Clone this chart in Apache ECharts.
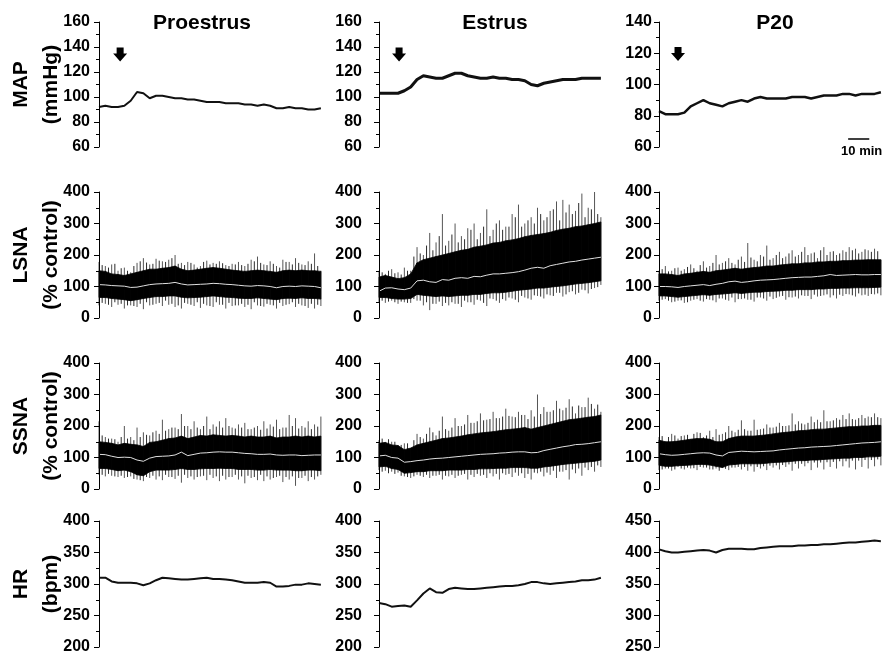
<!DOCTYPE html>
<html>
<head>
<meta charset="utf-8">
<script src="https://cdn.jsdelivr.net/npm/echarts@6/dist/echarts.min.js"></script>
<style>
html,body{margin:0;padding:0;background:#fff}
#chart{width:886px;height:656px}
</style>
</head>
<body>
<div id="chart"></div>
<script>
// sample times (min), one point every 3 min, and the in-between spike times
var minutes = [0,3,6,9,12,15,18,21,24,27,30,33,36,39,42,45,48,51,54,57,60,63,66,69,72,75,78,81,84,87,90,93,96,99,102,105];
var minutesHalf = [1.5,4.5,7.5,10.5,13.5,16.5,19.5,22.5,25.5,28.5,31.5,34.5,37.5,40.5,43.5,46.5,49.5,52.5,55.5,58.5,61.5,64.5,67.5,70.5,73.5,76.5,79.5,82.5,85.5,88.5,91.5,94.5,97.5,100.5,103.5];

// MAP (mmHg)
var proMAP = [92,93,92,92,93,97,104,103,99,101,101,100,99,99,98,98,97,96,96,96,95,95,95,94,94,93,94,93,91,91,92,91,91,90,90,91];
var estMAP = [103,103,103,103,105,108,114,117,116,115,115,117,119,119,117,116,115,115,116,115,115,114,114,113,110,109,111,112,113,114,114,114,115,115,115,115];
var p20MAP = [83,81,81,81,82,86,88,90,88,87,86,88,89,90,89,91,92,91,91,91,91,92,92,92,91,92,93,93,93,94,94,93,94,94,94,95];

// HR (bpm)
var proHR = [310,310,304,302,302,302,301,298,301,306,310,309,308,307,307,308,309,310,308,308,307,306,304,302,302,302,303,302,296,296,297,299,299,301,300,299];
var estHR = [270,268,264,265,266,264,274,285,293,287,286,292,294,293,292,292,293,294,295,296,297,297,298,300,303,303,301,300,301,302,303,304,306,306,307,310];
var p20HR = [405,402,400,400,401,402,403,404,403,400,404,406,406,406,405,405,407,408,409,410,410,410,411,411,412,412,413,413,414,415,416,416,417,418,419,418];

// LSNA (% control): running mean, dense core band, spike extremes
var proLSNAmean   = [106,105,103,102,101,97,98,102,106,108,109,110,113,108,105,106,107,108,110,109,107,106,104,102,101,103,102,100,96,100,101,100,102,101,100,96];
var proLSNAcoreHi = [150,148,140,138,135,140,145,150,155,155,158,160,165,155,150,152,155,158,160,158,155,152,150,148,150,152,150,148,145,150,152,150,152,150,150,148];
var proLSNAcoreLo = [65,65,62,60,58,55,58,62,65,68,68,70,70,66,64,65,66,68,70,68,66,65,63,62,62,64,62,60,58,62,63,62,64,62,62,60];
var proLSNAhi     = [178,165,170,150,160,145,175,190,170,188,180,185,200,175,178,170,165,182,175,180,168,172,178,165,185,195,170,180,165,185,178,190,170,180,205,150];
var proLSNAlo     = [40,45,35,42,30,40,35,28,40,45,38,42,35,30,45,38,32,40,35,42,30,38,40,35,28,40,36,42,30,38,44,35,40,32,30,38];
var proLSNAhi2    = [168,160,172,158,150,165,180,176,172,182,178,190,172,168,175,160,178,170,172,174,165,170,168,172,180,175,168,172,160,178,170,175,168,172,165];
var proLSNAlo2    = [48,42,50,45,40,38,45,50,42,48,55,45,40,48,42,50,45,38,50,42,48,40,45,42,50,38,45,40,48,42,50,45,38,45,42];

var estLSNAmean   = [85,95,96,92,90,95,118,120,115,113,122,120,126,128,126,132,131,136,140,140,142,144,147,152,158,161,158,166,170,174,178,180,184,187,190,193];
var estLSNAcoreHi = [130,135,130,125,128,140,175,185,190,195,200,205,210,215,218,225,228,232,238,240,245,248,252,258,262,265,268,272,278,282,285,290,292,296,300,305];
var estLSNAcoreLo = [65,65,62,60,60,62,75,72,70,68,70,68,70,72,72,75,75,78,80,80,82,85,88,90,92,95,95,98,100,102,105,108,110,112,115,118];
var estLSNAhi     = [150,140,155,145,160,150,225,200,270,240,330,245,300,260,285,300,270,345,280,310,290,330,360,300,320,350,310,340,370,375,360,340,395,350,400,320];
var estLSNAlo     = [50,48,55,45,50,48,55,40,25,45,38,40,45,35,50,42,55,38,60,48,55,62,50,65,58,70,62,72,80,68,82,75,90,78,95,105];
var estLSNAhi2    = [145,150,142,138,150,195,205,230,215,260,230,265,240,250,280,250,290,260,300,280,290,320,290,310,300,330,320,345,310,335,330,365,320,345,330];
var estLSNAlo2    = [55,52,50,52,48,60,55,50,45,52,48,50,45,55,50,58,48,62,55,60,65,58,70,62,72,68,75,70,80,75,85,80,88,92,98];

var p20LSNAmean   = [100,100,99,97,100,102,104,106,103,107,110,115,117,113,115,118,120,121,122,124,126,128,129,130,130,132,134,138,135,136,137,138,137,137,138,138];
var p20LSNAcoreHi = [140,140,138,135,140,142,145,148,145,150,152,155,158,155,158,160,162,165,165,168,170,172,172,175,175,178,178,180,180,182,182,184,184,185,185,185];
var p20LSNAcoreLo = [70,70,68,66,68,70,72,74,72,75,76,78,80,78,80,82,82,84,85,86,88,88,90,90,90,92,92,94,94,95,95,96,96,96,97,98];
var p20LSNAhi     = [150,165,150,160,155,170,150,180,165,200,175,190,170,195,238,185,200,230,190,210,195,215,200,225,205,190,225,210,200,215,225,220,210,215,220,185];
var p20LSNAlo     = [55,60,50,55,48,55,60,52,58,50,62,55,50,60,58,52,65,55,60,68,58,65,62,70,60,68,72,65,62,70,75,68,72,70,75,72];
var p20LSNAhi2    = [155,148,158,150,162,158,168,160,175,170,180,175,185,178,192,180,195,185,200,190,205,195,210,200,208,215,200,212,205,210,215,205,218,210,212];
var p20LSNAlo2    = [58,55,52,56,50,58,55,60,56,62,58,65,60,62,58,65,62,68,64,70,66,68,72,70,74,70,75,72,74,76,72,78,74,76,78];

// SSNA (% control)
var proSSNAmean   = [110,109,104,100,101,100,92,88,98,103,104,105,108,117,106,110,114,115,117,118,117,117,115,113,112,110,110,111,108,107,108,108,106,107,108,108];
var proSSNAcoreHi = [150,148,145,140,145,142,140,135,148,150,155,160,162,168,160,165,170,168,172,170,168,170,168,165,168,165,165,168,162,165,165,168,165,168,165,168];
var proSSNAcoreLo = [65,65,62,58,60,55,45,42,55,60,60,60,62,65,62,62,64,65,65,66,65,65,62,62,62,60,60,62,60,60,60,58,58,60,60,58];
var proSSNAhi     = [215,165,160,150,200,165,195,180,170,185,220,190,195,238,200,215,190,230,205,215,225,195,205,210,190,200,215,205,220,195,235,225,200,215,205,230];
var proSSNAlo     = [45,40,42,38,35,40,30,25,35,30,28,38,32,20,35,30,40,28,35,25,30,38,30,18,35,28,25,30,38,22,30,10,35,25,30,45];
var proSSNAhi2    = [170,160,158,165,160,155,165,172,180,175,185,195,190,200,190,195,200,190,198,195,200,192,195,190,195,188,192,198,190,195,200,192,195,190,198];
var proSSNAlo2    = [45,48,40,42,38,32,28,38,42,40,45,38,42,45,40,38,42,45,40,42,38,45,40,42,38,45,40,35,42,38,40,35,42,38,40];

var estSSNAmean   = [105,107,100,98,85,87,90,92,95,97,98,100,102,104,106,108,110,111,112,114,115,117,118,118,115,116,122,126,130,134,137,141,142,144,147,150];
var estSSNAcoreHi = [145,148,140,138,125,130,140,145,150,155,160,162,165,168,172,175,178,180,182,185,188,190,192,195,190,195,200,205,210,215,220,222,225,228,230,235];
var estSSNAcoreLo = [70,72,65,62,50,52,55,55,58,58,58,60,60,60,62,62,64,64,65,66,66,68,68,68,66,66,70,72,75,78,80,82,84,86,88,92];
var estSSNAhi     = [155,140,150,135,145,125,175,160,195,170,230,185,225,200,235,210,240,220,245,225,255,230,245,235,250,300,260,245,280,250,285,240,260,290,255,245];
var estSSNAlo     = [60,58,55,52,40,35,45,38,35,42,30,40,35,45,30,38,42,35,40,30,45,38,42,35,30,50,40,45,35,55,30,50,42,60,55,70];
var estSSNAhi2    = [160,158,150,140,145,155,165,175,180,185,190,195,200,205,210,215,218,222,225,230,232,228,235,222,230,238,245,250,255,258,262,265,260,270,268];
var estSSNAlo2    = [55,50,48,42,38,40,42,45,42,45,42,45,42,48,45,48,45,50,48,50,48,52,50,48,52,55,52,58,55,60,62,65,68,70,75];

var p20SSNAmean   = [112,109,107,108,110,112,114,115,114,108,105,116,118,120,119,118,119,120,121,124,126,128,130,131,133,134,135,136,138,140,142,144,146,147,148,150];
var p20SSNAcoreHi = [155,150,150,152,155,158,160,160,158,150,150,160,165,168,168,168,170,172,175,178,180,182,185,186,188,190,190,192,194,196,198,198,200,200,202,202];
var p20SSNAcoreLo = [75,72,72,74,75,76,78,78,76,72,68,76,78,80,80,80,80,82,84,85,86,88,90,90,92,92,94,95,96,98,98,100,100,102,102,104];
var p20SSNAhi     = [165,150,175,160,170,155,180,165,185,190,175,200,180,218,185,220,190,205,195,210,200,240,215,205,230,220,250,215,225,235,240,220,235,230,240,225];
var p20SSNAlo     = [60,65,58,70,62,65,60,68,62,65,70,60,68,62,58,55,65,60,68,62,70,58,65,72,60,68,62,70,65,72,68,62,70,65,72,75];
var p20SSNAhi2    = [168,165,170,168,172,175,178,170,165,172,180,185,188,190,185,188,192,195,198,200,202,205,208,210,212,212,215,218,220,222,222,225,225,228,228];
var p20SSNAlo2    = [62,65,62,65,68,66,70,68,62,58,64,68,70,70,72,70,72,74,75,76,78,80,80,82,84,84,85,86,88,88,90,90,92,92,94];

// axis ranges [min, max, interval]
var mapAxis = [60, 160, 20];
var mapAxisP20 = [60, 140, 20];
var snaAxis = [0, 400, 100];
var hrAxis = [200, 400, 50];
var hrAxisP20 = [250, 450, 50];

var colTitles = ['Proestrus', 'Estrus', 'P20'];
var rowNames = ['MAP\n(mmHg)', 'LSNA\n(% control)', 'SSNA\n(% control)', 'HR\n(bpm)'];

var colLeft = [99, 379, 659];
var colTitleX = [197, 490, 770];
var labelMargin = [9, 17, 7];
var rowTop = [22, 192, 363, 521];
var rowH = [125, 126, 126, 126];
var plotW = 224;
var FONT = 'Arial, "Liberation Sans", sans-serif';

var panels = [
  {row:0, col:0, axis:mapAxis, line:proMAP, width:2, arrow:[10, 134]},
  {row:0, col:1, axis:mapAxis, line:estMAP, width:3, arrow:[9.5, 134]},
  {row:0, col:2, axis:mapAxisP20, line:p20MAP, width:2.5, arrow:[9, 119.5], scaleBar:true},
  {row:1, col:0, axis:snaAxis, band:[proLSNAhi, proLSNAcoreHi, proLSNAcoreLo, proLSNAlo, proLSNAmean, proLSNAhi2, proLSNAlo2]},
  {row:1, col:1, axis:snaAxis, band:[estLSNAhi, estLSNAcoreHi, estLSNAcoreLo, estLSNAlo, estLSNAmean, estLSNAhi2, estLSNAlo2]},
  {row:1, col:2, axis:snaAxis, band:[p20LSNAhi, p20LSNAcoreHi, p20LSNAcoreLo, p20LSNAlo, p20LSNAmean, p20LSNAhi2, p20LSNAlo2]},
  {row:2, col:0, axis:snaAxis, band:[proSSNAhi, proSSNAcoreHi, proSSNAcoreLo, proSSNAlo, proSSNAmean, proSSNAhi2, proSSNAlo2]},
  {row:2, col:1, axis:snaAxis, band:[estSSNAhi, estSSNAcoreHi, estSSNAcoreLo, estSSNAlo, estSSNAmean, estSSNAhi2, estSSNAlo2]},
  {row:2, col:2, axis:snaAxis, band:[p20SSNAhi, p20SSNAcoreHi, p20SSNAcoreLo, p20SSNAlo, p20SSNAmean, p20SSNAhi2, p20SSNAlo2]},
  {row:3, col:0, axis:hrAxis, line:proHR, width:2},
  {row:3, col:1, axis:hrAxis, line:estHR, width:2},
  {row:3, col:2, axis:hrAxisP20, line:p20HR, width:2}
];

function pairs(arr) {
  return arr.map(function (v, i) { return [minutes[i], v]; });
}

// vertical spike from lo to hi at each sample
function spikeSeries(gi, times, hi, lo, color) {
  return {
    type: 'custom', xAxisIndex: gi, yAxisIndex: gi, silent: true,
    data: times.map(function (t, i) { return [t, lo[i], hi[i]]; }),
    encode: {x: 0, y: [1, 2]},
    renderItem: function (params, api) {
      var a = api.coord([api.value(0), api.value(1)]);
      var b = api.coord([api.value(0), api.value(2)]);
      return {type: 'line', shape: {x1: a[0], y1: a[1], x2: b[0], y2: b[1]},
        style: {stroke: color, lineWidth: 1}};
    }
  };
}

// filled black band between core low and core high
function coreSeries(gi, hi, lo) {
  var n = minutes.length;
  return {
    type: 'custom', xAxisIndex: gi, yAxisIndex: gi, silent: true,
    data: minutes.slice(0, n - 1).map(function (t, i) { return [t, lo[i], hi[i], minutes[i + 1], lo[i + 1], hi[i + 1]]; }),
    encode: {x: [0, 3], y: [1, 2, 4, 5]},
    renderItem: function (params, api) {
      var p1 = api.coord([api.value(0), api.value(1)]);
      var p2 = api.coord([api.value(0), api.value(2)]);
      var p3 = api.coord([api.value(3), api.value(5)]);
      var p4 = api.coord([api.value(3), api.value(4)]);
      return {type: 'polygon', shape: {points: [p1, p2, p3, p4]},
        style: {fill: '#000', stroke: '#000', lineWidth: 0.8}};
    }
  };
}

var grids = [], xAxes = [], yAxes = [], series = [];

panels.forEach(function (p, gi) {
  grids.push({left: colLeft[p.col], top: rowTop[p.row], width: plotW, height: rowH[p.row]});
  xAxes.push({gridIndex: gi, type: 'value', min: 0, max: 106, show: false});
  var y = {
    gridIndex: gi, type: 'value', min: p.axis[0], max: p.axis[1], interval: p.axis[2], z: 10,
    axisLine: {show: true, lineStyle: {color: '#000', width: 1}},
    axisTick: {show: true, inside: false, length: 5, lineStyle: {color: '#000'}},
    minorTick: {show: true, splitNumber: 2, length: 3, lineStyle: {color: '#000'}},
    splitLine: {show: false},
    axisLabel: {fontFamily: FONT, fontSize: 16, fontWeight: 'bold', color: '#000', margin: labelMargin[p.col]}
  };
  if (p.col === 0) {
    y.name = rowNames[p.row];
    y.nameLocation = 'middle';
    y.nameRotate = 90;
    y.nameGap = 33;
    y.nameMoveOverlap = false;
    y.nameTextStyle = {fontFamily: FONT, fontSize: 21, fontWeight: 'bold', color: '#000', lineHeight: 30};
  }
  yAxes.push(y);

  if (p.line) {
    var s = {
      type: 'line', xAxisIndex: gi, yAxisIndex: gi, data: pairs(p.line),
      symbol: 'none', silent: true, clip: false,
      lineStyle: {color: '#111', width: p.width}
    };
    if (p.arrow) {
      s.markPoint = {
        silent: true,
        symbol: 'path://M3,0 L9,0 L9,6 L12,6 L6,14 L0,6 L3,6 Z',
        symbolSize: [14, 14],
        itemStyle: {color: '#000'},
        label: {show: false},
        data: [{coord: p.arrow}]
      };
    }
    if (p.scaleBar) {
      s.markLine = {
        silent: true, symbol: 'none',
        lineStyle: {color: '#000', width: 1.5, type: 'solid'},
        label: {show: true, position: 'insideMiddleBottom', distance: 6, formatter: '10 min',
          fontFamily: FONT, fontSize: 13, fontWeight: 'bold', color: '#000', offset: [3, 0]},
        data: [[{coord: [89.5, 65]}, {coord: [99.5, 65]}]]
      };
    }
    series.push(s);
  } else {
    series.push(spikeSeries(gi, minutes, p.band[0], p.band[3], '#555'));
    series.push(spikeSeries(gi, minutesHalf, p.band[5], p.band[6], '#2a2a2a'));
    series.push(coreSeries(gi, p.band[1], p.band[2]));
    series.push({
      type: 'line', xAxisIndex: gi, yAxisIndex: gi, data: pairs(p.band[4]),
      symbol: 'none', silent: true, z: 3,
      lineStyle: {color: '#e0e0e0', width: 1}
    });
  }
});

var titles = colTitles.map(function (t, i) {
  return {text: t, left: colTitleX[i], top: 8, textAlign: 'center',
    textStyle: {fontFamily: FONT, fontSize: 21, fontWeight: 'bold', color: '#000'}};
});

var chart = echarts.init(document.getElementById('chart'));
chart.setOption({
  animation: false,
  backgroundColor: '#fff',
  title: titles,
  grid: grids,
  xAxis: xAxes,
  yAxis: yAxes,
  series: series
});
</script>
</body>
</html>
